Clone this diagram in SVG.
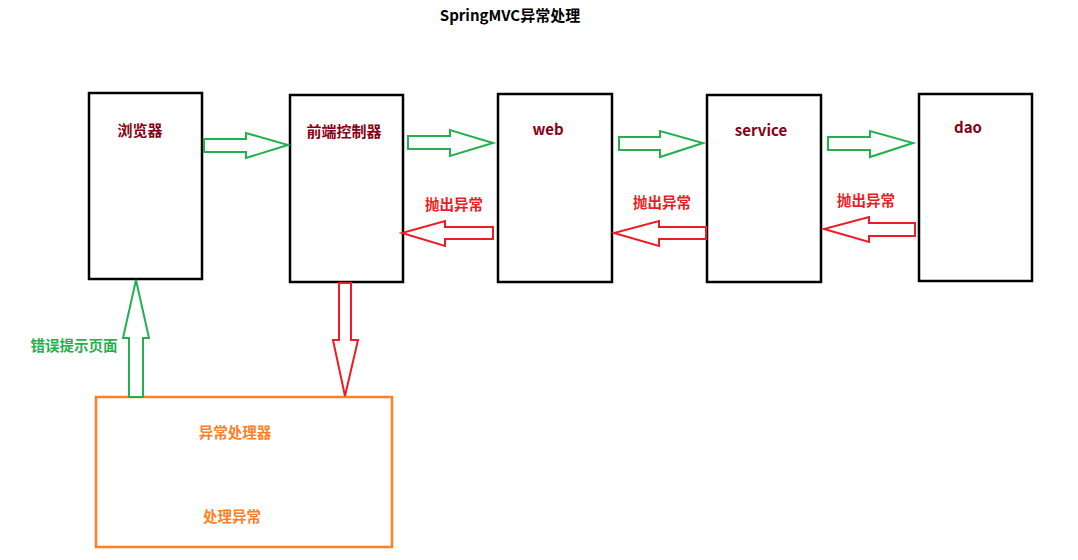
<svg xmlns="http://www.w3.org/2000/svg" width="1078" height="560" viewBox="0 0 1078 560">
<style>
.box{fill:#fff;stroke:#000;stroke-width:2.5}
.hbox{fill:#fff;stroke:#ff7f27;stroke-width:2.5}
.g{fill:#fff;stroke:#22b14c;stroke-width:2;stroke-linejoin:miter}
.r{fill:#fff;stroke:#ed1c24;stroke-width:2;stroke-linejoin:miter}
text{font-family:"Noto Sans CJK SC","Microsoft YaHei",sans-serif;font-weight:bold;text-anchor:middle}
.lbl{font-size:15px;fill:#880015}
.red{font-size:14.5px;fill:#ed1c24}
.grn{font-size:14.5px;fill:#22b14c}
.org{font-size:14.5px;fill:#ff7f27}
.title{font-size:15px;fill:#000}
</style>
<rect width="1078" height="560" fill="#fff"/>
<text class="title" x="510" y="21">SpringMVC异常处理</text>
<g id="browser"><rect class="box" x="89" y="93" width="113" height="186"/><text class="lbl" x="140" y="136">浏览器</text></g>
<g id="frontController"><rect class="box" x="290" y="95" width="113" height="187"/><text class="lbl" x="344" y="137">前端控制器</text></g>
<g id="web"><rect class="box" x="498" y="94" width="114" height="188"/><text class="lbl" x="548" y="135">web</text></g>
<g id="service"><rect class="box" x="707" y="95" width="114" height="187"/><text class="lbl" x="761" y="136">service</text></g>
<g id="dao"><rect class="box" x="919" y="94" width="113" height="187"/><text class="lbl" x="968" y="133">dao</text></g>
<g id="handler"><rect class="hbox" x="96" y="397" width="296" height="150"/><text class="org" x="235" y="438">异常处理器</text><text class="org" x="232" y="522">处理异常</text></g>
<g id="connectors">
<polygon class="g" points="204,139 246,139 246,133 288,145 246,158 246,152 204,152"/>
<polygon class="g" points="408,136 450,136 450,130 493,143 450,156 450,149 408,149"/>
<polygon class="g" points="619,137 660,137 660,131 703,143 660,157 660,150 619,150"/>
<polygon class="g" points="828,137 870,137 870,131 913,143 870,157 870,150 828,150"/>
<polygon class="r" points="493,227 445,227 445,221 402,233 445,246 445,239 493,239"/>
<polygon class="r" points="706,227 659,227 659,221 614,233 659,246 659,239 706,239"/>
<polygon class="r" points="915,223 869,223 869,217 824,229 869,242 869,236 915,236"/>
<polygon class="r" points="339,283 351,283 351,340 358,340 345,396 333,340 339,340"/>
<polygon class="g" points="129,397 143,397 143,338 149,338 136,280 123,338 129,338"/>
<text class="red" x="454" y="210">抛出异常</text>
<text class="red" x="662" y="208">抛出异常</text>
<text class="red" x="866" y="206">抛出异常</text>
<text class="grn" x="74" y="351">错误提示页面</text>
</g>
</svg>
